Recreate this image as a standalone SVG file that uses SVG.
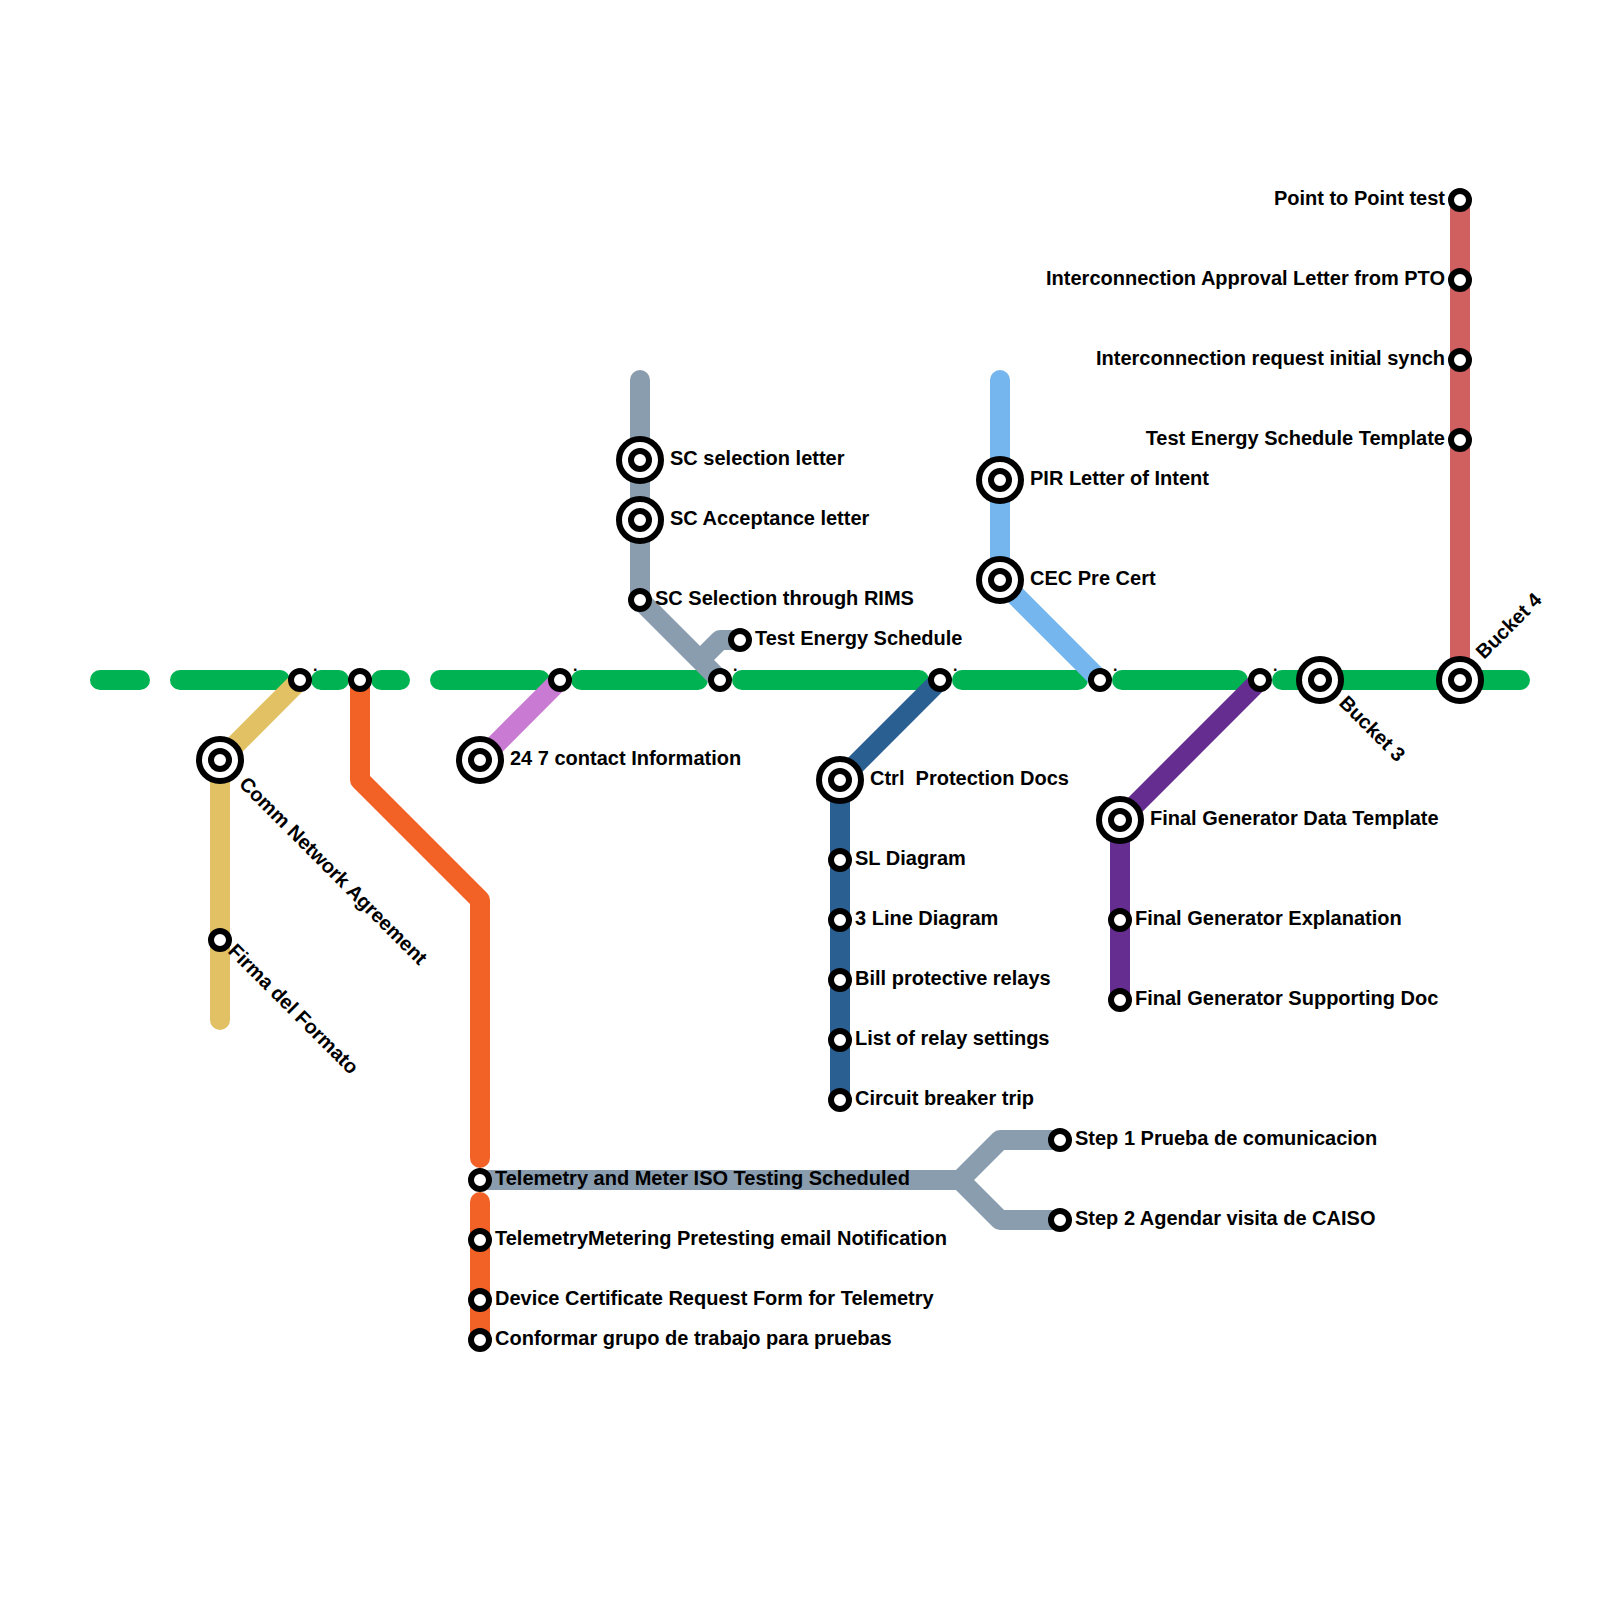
<svg xmlns="http://www.w3.org/2000/svg" width="1600" height="1600" viewBox="0 0 1600 1600">
<style>
.l{fill:none;stroke-width:20;stroke-linecap:round;stroke-linejoin:round}
.s{fill:#fff;stroke:#000;stroke-width:6}
.i{fill:#fff;stroke:#000;stroke-width:6}
.t{font-family:"Liberation Sans",Arial,sans-serif;font-weight:700;font-size:20px;fill:#000;white-space:pre}
.d{font-size:16px}
.e{text-anchor:end}
</style>
<defs>
<g id="st"><circle class="s" r="9"/></g>
<g id="ic"><circle class="i" r="21"/><circle class="i" r="9"/></g>
</defs>
<g id="connectors">
<path class="l" stroke="#00B251" d="M100 680H140M180 680H280M321 680H339M381 680H400M440 680H540M581 680H698M742 680H919M962 680H1078M1122 680H1238M1282 680H1520"/>
<path class="l" stroke="#E2C064" d="M300 680L220 760V1020"/>
<path class="l" stroke="#C97AD3" d="M560 680L480 760"/>
<path class="l" stroke="#F26226" d="M360 680V780L480 900V1158M480 1202V1340"/>
<path class="l" stroke="#8A9DAF" d="M640 380V600L720 680M700 660L720 640H740M480 1180H960L1000 1140H1060M960 1180L1000 1220H1060"/>
<path class="l" stroke="#2A5F91" d="M940 680L840 780V1100"/>
<path class="l" stroke="#76B6EE" d="M1000 380V580L1100 680"/>
<path class="l" stroke="#662D91" d="M1260 680L1120 820V1000"/>
<path class="l" stroke="#D06060" d="M1460 200V680"/>
</g>
<g id="n-comm"><use href="#ic" x="220" y="760"/><text class="t" transform="translate(238 785) rotate(45)">Comm Network Agreement</text></g>
<g id="n-firma"><use href="#st" x="220" y="940"/><text class="t" transform="translate(227 952) rotate(45)">Firma del Formato</text></g>
<g id="n-j1"><use href="#st" x="300" y="680"/><text class="t d" x="313" y="671">.</text></g>
<g id="n-j2"><use href="#st" x="360" y="680"/></g>
<g id="n-247"><use href="#ic" x="480" y="760"/><text class="t" x="510" y="765">24 7 contact Information</text></g>
<g id="n-j3"><use href="#st" x="560" y="680"/><text class="t d" x="573" y="671">.</text></g>
<g id="n-sc1"><use href="#ic" x="640" y="460"/><text class="t" x="670" y="465">SC selection letter</text></g>
<g id="n-sc2"><use href="#ic" x="640" y="520"/><text class="t" x="670" y="525">SC Acceptance letter</text></g>
<g id="n-sc3"><use href="#st" x="640" y="600"/><text class="t" x="655" y="605">SC Selection through RIMS</text></g>
<g id="n-tes"><use href="#st" x="740" y="640"/><text class="t" x="755" y="645">Test Energy Schedule</text></g>
<g id="n-j4"><use href="#st" x="720" y="680"/><text class="t d" x="733" y="671">.</text></g>
<g id="n-j5"><use href="#st" x="940" y="680"/><text class="t d" x="953" y="671">.</text></g>
<g id="n-ctrl"><use href="#ic" x="840" y="780"/><text class="t" x="870" y="785">Ctrl  Protection Docs</text></g>
<g id="n-sl"><use href="#st" x="840" y="860"/><text class="t" x="855" y="865">SL Diagram</text></g>
<g id="n-3l"><use href="#st" x="840" y="920"/><text class="t" x="855" y="925">3 Line Diagram</text></g>
<g id="n-bill"><use href="#st" x="840" y="980"/><text class="t" x="855" y="985">Bill protective relays</text></g>
<g id="n-list"><use href="#st" x="840" y="1040"/><text class="t" x="855" y="1045">List of relay settings</text></g>
<g id="n-cb"><use href="#st" x="840" y="1100"/><text class="t" x="855" y="1105">Circuit breaker trip</text></g>
<g id="n-pir"><use href="#ic" x="1000" y="480"/><text class="t" x="1030" y="485">PIR Letter of Intent</text></g>
<g id="n-cec"><use href="#ic" x="1000" y="580"/><text class="t" x="1030" y="585">CEC Pre Cert</text></g>
<g id="n-j6"><use href="#st" x="1100" y="680"/><text class="t d" x="1113" y="671">.</text></g>
<g id="n-j7"><use href="#st" x="1260" y="680"/><text class="t d" x="1273" y="671">.</text></g>
<g id="n-b3"><use href="#ic" x="1320" y="680"/><text class="t" transform="translate(1338 704) rotate(45)">Bucket 3</text></g>
<g id="n-b4"><use href="#ic" x="1460" y="680"/><text class="t" transform="translate(1484 660) rotate(-45)">Bucket 4</text></g>
<g id="n-fg1"><use href="#ic" x="1120" y="820"/><text class="t" x="1150" y="825">Final Generator Data Template</text></g>
<g id="n-fg2"><use href="#st" x="1120" y="920"/><text class="t" x="1135" y="925">Final Generator Explanation</text></g>
<g id="n-fg3"><use href="#st" x="1120" y="1000"/><text class="t" x="1135" y="1005">Final Generator Supporting Doc</text></g>
<g id="n-p2p"><use href="#st" x="1460" y="200"/><text class="t e" x="1445" y="205">Point to Point test</text></g>
<g id="n-ial"><use href="#st" x="1460" y="280"/><text class="t e" x="1445" y="285">Interconnection Approval Letter from PTO</text></g>
<g id="n-irs"><use href="#st" x="1460" y="360"/><text class="t e" x="1445" y="365">Interconnection request initial synch</text></g>
<g id="n-test"><use href="#st" x="1460" y="440"/><text class="t e" x="1445" y="445">Test Energy Schedule Template</text></g>
<g id="n-tm"><use href="#st" x="480" y="1180"/><text class="t" x="495" y="1185">Telemetry and Meter ISO Testing Scheduled</text></g>
<g id="n-tp"><use href="#st" x="480" y="1240"/><text class="t" x="495" y="1245">TelemetryMetering Pretesting email Notification</text></g>
<g id="n-dc"><use href="#st" x="480" y="1300"/><text class="t" x="495" y="1305">Device Certificate Request Form for Telemetry</text></g>
<g id="n-cg"><use href="#st" x="480" y="1340"/><text class="t" x="495" y="1345">Conformar grupo de trabajo para pruebas</text></g>
<g id="n-s1"><use href="#st" x="1060" y="1140"/><text class="t" x="1075" y="1145">Step 1 Prueba de comunicacion</text></g>
<g id="n-s2"><use href="#st" x="1060" y="1220"/><text class="t" x="1075" y="1225">Step 2 Agendar visita de CAISO</text></g>
</svg>
